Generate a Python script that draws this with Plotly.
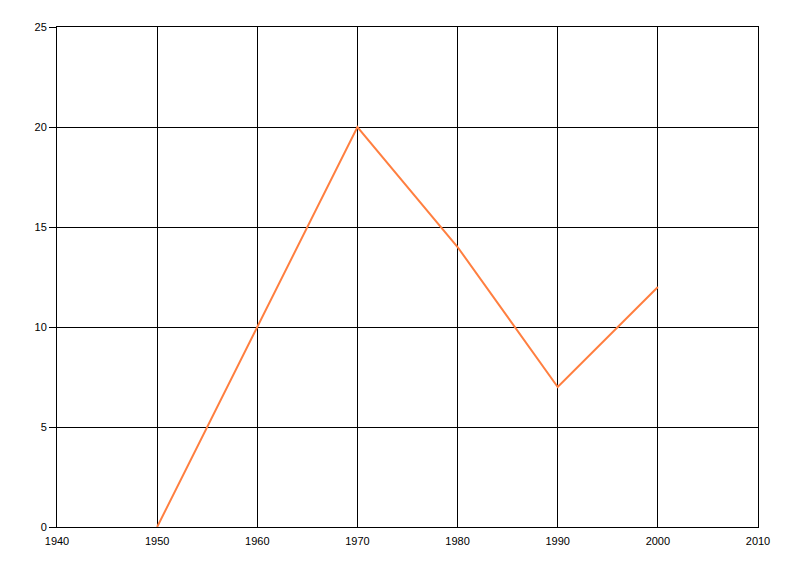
import plotly.graph_objects as go

years = [1950, 1960, 1970, 1980, 1990, 2000]
values = [0, 10, 20, 14, 7, 12]

fig = go.Figure()
fig.add_trace(go.Scatter(x=years, y=values, mode="lines",
                         line=dict(color="#FF7F40", width=2)))

axis_font = dict(family="Liberation Sans, Arial, sans-serif", size=11, color="black")
fig.update_layout(
    width=800, height=576,
    margin=dict(l=49, r=50, t=19, b=57),
    paper_bgcolor="white", plot_bgcolor="white",
    showlegend=False,
    xaxis=dict(range=[1940, 2010], tick0=1940, dtick=10, showgrid=True,
               gridcolor="black", gridwidth=1, showline=True, mirror=True,
               linecolor="black", linewidth=1, zeroline=False,
               ticks="", tickfont=axis_font, ticklabelstandoff=4),
    yaxis=dict(range=[0, 25], tick0=0, dtick=5, showgrid=True,
               gridcolor="black", gridwidth=1, showline=True, mirror=True,
               linecolor="black", linewidth=1, zeroline=False,
               ticks="outside", ticklen=7, tickcolor="black",
               tickfont=axis_font),
)
fig.write_html("out.html")
